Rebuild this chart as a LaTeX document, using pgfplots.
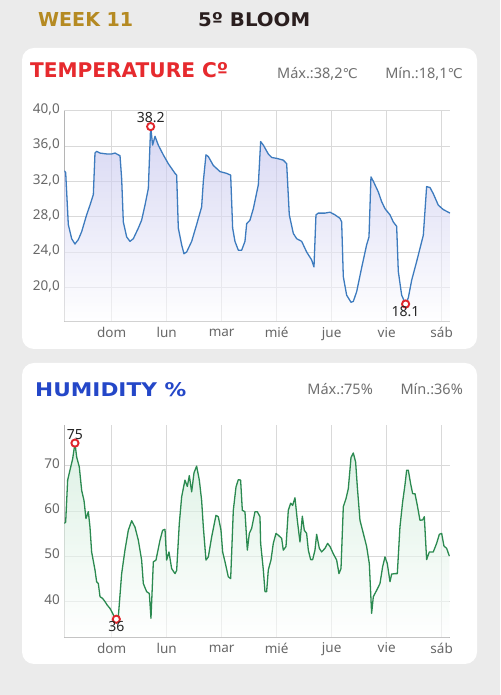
\documentclass[border=0pt]{standalone}
\usepackage{pgfplots}
\pgfplotsset{compat=1.18}
\usepackage{pgfplotstable}
\usepackage{fontspec}
\setmainfont{Noto Sans}
\newfontfamily\titlefont{DejaVu Sans}
\newfontfamily\symfont{DejaVu Sans}

\definecolor{bgcol}{HTML}{EBEBEB}
\definecolor{gridgray}{HTML}{D9D9D9}
\definecolor{axisgray}{HTML}{B5B5B5}
\definecolor{tickgray}{HTML}{686868}
\definecolor{statgray}{HTML}{707070}
\definecolor{templine}{HTML}{3D7BBE}
\definecolor{tempfill}{HTML}{BEBEEC}
\definecolor{humline}{HTML}{2B8A50}
\definecolor{humfill}{HTML}{C8E9D4}
\definecolor{markred}{HTML}{E0262C}
\definecolor{weekcol}{HTML}{B58A22}
\definecolor{bloomcol}{HTML}{2A1E1E}
\definecolor{tempred}{HTML}{E62A2E}
\definecolor{humblue}{HTML}{2447C8}

\pgfplotstableread{
x y
0.139 33.2
0.164 33.0
0.212 27.1
0.273 25.5
0.333 24.9
0.394 25.4
0.455 26.3
0.545 28.2
0.606 29.3
0.667 30.5
0.697 35.2
0.727 35.4
0.788 35.2
0.909 35.1
1.000 35.1
1.061 35.2
1.152 34.9
1.182 32.3
1.212 27.4
1.273 25.7
1.333 25.2
1.394 25.5
1.485 26.7
1.545 27.6
1.606 29.3
1.667 31.2
1.709 38.2
1.745 36.1
1.788 37.1
1.848 36.1
1.939 35.0
2.030 34.0
2.152 32.9
2.182 32.7
2.212 26.7
2.273 24.8
2.315 23.8
2.364 24.0
2.455 25.2
2.545 27.1
2.636 29.1
2.667 32.0
2.715 35.0
2.758 34.8
2.848 33.8
2.970 33.1
3.091 32.9
3.164 32.7
3.200 26.7
3.242 25.2
3.303 24.2
3.364 24.2
3.424 25.2
3.455 27.2
3.515 27.6
3.576 28.9
3.667 31.6
3.709 36.5
3.758 36.1
3.848 35.1
3.909 34.7
4.000 34.6
4.121 34.4
4.182 34.0
4.230 28.2
4.303 26.1
4.364 25.5
4.455 25.2
4.545 24.0
4.636 23.1
4.679 22.3
4.715 28.2
4.758 28.4
4.879 28.4
4.970 28.5
5.061 28.2
5.152 27.8
5.182 27.4
5.212 21.2
5.273 19.1
5.352 18.3
5.394 18.4
5.455 19.5
5.545 22.2
5.636 24.8
5.679 25.7
5.715 32.5
5.758 32.0
5.848 30.8
5.909 29.7
5.970 28.9
6.061 28.2
6.121 27.4
6.182 26.9
6.212 21.8
6.273 19.1
6.345 18.1
6.394 18.8
6.455 20.8
6.545 22.9
6.667 25.9
6.727 31.4
6.788 31.3
6.848 30.6
6.939 29.3
7.030 28.8
7.152 28.4
}\temptable

\pgfplotstableread{
x y
0.139 57.2
0.164 57.5
0.200 66.8
0.242 69.0
0.291 71.5
0.333 75.0
0.364 71.9
0.412 69.7
0.455 64.5
0.497 62.3
0.533 58.3
0.576 59.8
0.606 56.4
0.636 50.9
0.697 46.9
0.727 44.3
0.758 43.9
0.788 41.0
0.836 40.6
0.879 39.9
0.921 39.1
0.970 38.4
1.018 37.3
1.061 36.2
1.085 36.0
1.121 36.5
1.182 46.1
1.242 51.3
1.303 55.7
1.364 57.8
1.424 56.4
1.485 53.5
1.545 49.1
1.576 43.9
1.636 42.1
1.685 41.7
1.715 36.2
1.758 48.7
1.806 49.1
1.879 53.5
1.927 55.7
1.970 55.9
2.000 49.1
2.042 50.9
2.091 47.2
2.152 46.1
2.182 46.8
2.230 57.2
2.273 63.1
2.333 66.8
2.376 65.4
2.412 67.8
2.455 64.2
2.497 68.4
2.545 69.9
2.594 66.8
2.636 62.3
2.667 56.4
2.715 49.1
2.758 49.8
2.818 54.2
2.897 59.0
2.939 58.7
2.988 55.7
3.018 50.9
3.061 48.7
3.121 45.4
3.164 45.0
3.212 60.1
3.261 65.3
3.303 66.9
3.345 66.8
3.376 60.1
3.424 59.8
3.467 51.3
3.503 55.0
3.545 56.1
3.606 59.8
3.648 59.8
3.697 58.7
3.709 52.8
3.758 46.9
3.788 42.1
3.818 42.1
3.848 46.9
3.897 49.1
3.939 52.8
3.988 55.0
4.030 54.6
4.091 53.9
4.121 51.3
4.170 52.1
4.212 60.1
4.255 61.7
4.291 61.2
4.333 62.9
4.376 57.9
4.424 53.1
4.467 58.8
4.503 55.7
4.545 55.0
4.576 51.3
4.618 49.2
4.655 49.2
4.697 51.3
4.727 54.8
4.776 51.7
4.818 50.9
4.879 51.7
4.927 52.8
4.970 52.1
5.030 50.5
5.091 49.1
5.133 46.1
5.170 47.2
5.212 60.9
5.261 62.7
5.303 64.9
5.352 71.8
5.394 72.8
5.436 70.8
5.467 65.3
5.515 57.9
5.576 55.0
5.636 52.1
5.685 48.3
5.727 37.3
5.758 41.0
5.818 42.4
5.879 43.9
5.927 47.6
5.970 49.8
6.012 48.3
6.061 44.3
6.091 46.0
6.152 46.1
6.194 46.1
6.242 56.4
6.291 62.0
6.333 65.7
6.364 69.0
6.394 69.0
6.436 66.0
6.473 63.8
6.515 63.8
6.558 61.2
6.606 57.9
6.655 58.0
6.685 58.7
6.727 49.2
6.776 50.9
6.848 50.9
6.909 52.8
6.958 54.8
7.000 55.0
7.042 52.2
7.091 51.7
7.139 50.0
}\humtable

\pgfplotsset{
  cardaxis/.style={
    scale only axis,
    width=385.7pt,
    xmin=0.139, xmax=7.152,
    axis x line*=bottom, axis y line*=left,
    axis line style={draw=axisgray, line width=0.7pt, -},
    xtick={1,2,3,4,5,6,7},
    xticklabels={dom,lun,mar,mié,jue,vie,sáb},
    typeset ticklabels with strut,
    grid=major,
    major grid style={draw=gridgray, line width=0.6pt},
    major tick length=0pt,
    /pgf/number format/assume math mode=true,
    tick label style={font=\fontsize{13.5}{13.5}\selectfont, text=tickgray},
    xticklabel style={yshift=-2pt},
    yticklabel style={xshift=-1pt},
    clip mode=individual,
  },
  markstyle/.style={
    only marks, mark=*, mark size=3.6pt,
    mark options={draw=markred, fill=white, line width=1.9pt},
    point meta=explicit symbolic, nodes near coords,
    every node near coord/.append style={font=\fontsize{14}{14}\selectfont, text=black!85, inner sep=1pt},
  },
}

\begin{document}
\begin{tikzpicture}
\useasboundingbox (0pt,0pt) rectangle (500pt,695pt);
\fill[bgcol] (0pt,0pt) rectangle (500pt,695pt);
\fill[white, rounded corners=12pt] (22pt,346pt) rectangle (477pt,647pt);
\fill[white, rounded corners=12pt] (22pt,31pt) rectangle (477pt,332pt);

% headings
\node[anchor=south west, inner sep=0pt, text=weekcol] at (38pt,668.3pt)
  {\resizebox{95pt}{14pt}{\titlefont\bfseries WEEK 11}};
\node[anchor=south west, inner sep=0pt, text=bloomcol] at (198pt,668.3pt)
  {\resizebox{112pt}{14pt}{\titlefont\bfseries 5º BLOOM}};
\node[anchor=south west, inner sep=0pt, text=tempred] at (30pt,616.7pt)
  {\resizebox{198pt}{15pt}{\titlefont\bfseries TEMPERATURE Cº}};
\node[anchor=south west, inner sep=0pt, text=humblue] at (35pt,298pt)
  {\resizebox{151pt}{14pt}{\titlefont\bfseries HUMIDITY \%}};

\node[anchor=base east, inner sep=0pt, text=statgray, font=\fontsize{14.5}{14.5}\selectfont] at (358pt,616pt)
  {Máx.:38,2{\symfont\fontsize{13.5}{13.5}\selectfont ℃}};
\node[anchor=base east, inner sep=0pt, text=statgray, font=\fontsize{14.5}{14.5}\selectfont] at (463pt,616pt)
  {Mín.:18,1{\symfont\fontsize{13.5}{13.5}\selectfont ℃}};
\node[anchor=base east, inner sep=0pt, text=statgray, font=\fontsize{14.5}{14.5}\selectfont] at (373pt,300pt)
  {Máx.:75\%};
\node[anchor=base east, inner sep=0pt, text=statgray, font=\fontsize{14.5}{14.5}\selectfont] at (463pt,300pt)
  {Mín.:36\%};

% temperature
\begin{axis}[cardaxis,
  at={(64.3pt,373.3pt)}, anchor=south west,
  height=211pt,
  ymin=16.1, ymax=40,
  ytick={20,24,28,32,36,40},
  yticklabel style={/pgf/number format/.cd, fixed, fixed zerofill, precision=1, use comma},
]
\addplot[draw=none, top color=tempfill, middle color=white!88!tempfill, bottom color=white, fill opacity=0.6, forget plot] table[x=x,y=y] {\temptable} \closedcycle;
\addplot[templine, line width=1.3pt, line join=round] table[x=x,y=y] {\temptable};
\addplot[markstyle, every node near coord/.append style={anchor=south, yshift=1.5pt}] coordinates {(1.709,38.2) [38.2]};
\addplot[markstyle, every node near coord/.append style={anchor=north, yshift=-0.5pt}] coordinates {(6.345,18.1) [18.1]};
\end{axis}

% humidity
\begin{axis}[cardaxis,
  at={(64.3pt,57.7pt)}, anchor=south west,
  height=212.3pt,
  ymin=32, ymax=79,
  ytick={40,50,60,70},
]
\addplot[draw=none, top color=humfill, middle color=white!85!humfill, bottom color=white, fill opacity=0.6, forget plot] table[x=x,y=y] {\humtable} \closedcycle;
\addplot[humline, line width=1.3pt, line join=round] table[x=x,y=y] {\humtable};
\addplot[markstyle, every node near coord/.append style={anchor=south, yshift=1.5pt}] coordinates {(0.333,75) [75]};
\addplot[markstyle, every node near coord/.append style={anchor=north, yshift=-0.5pt}] coordinates {(1.085,36) [36]};
\end{axis}
\end{tikzpicture}
\end{document}
